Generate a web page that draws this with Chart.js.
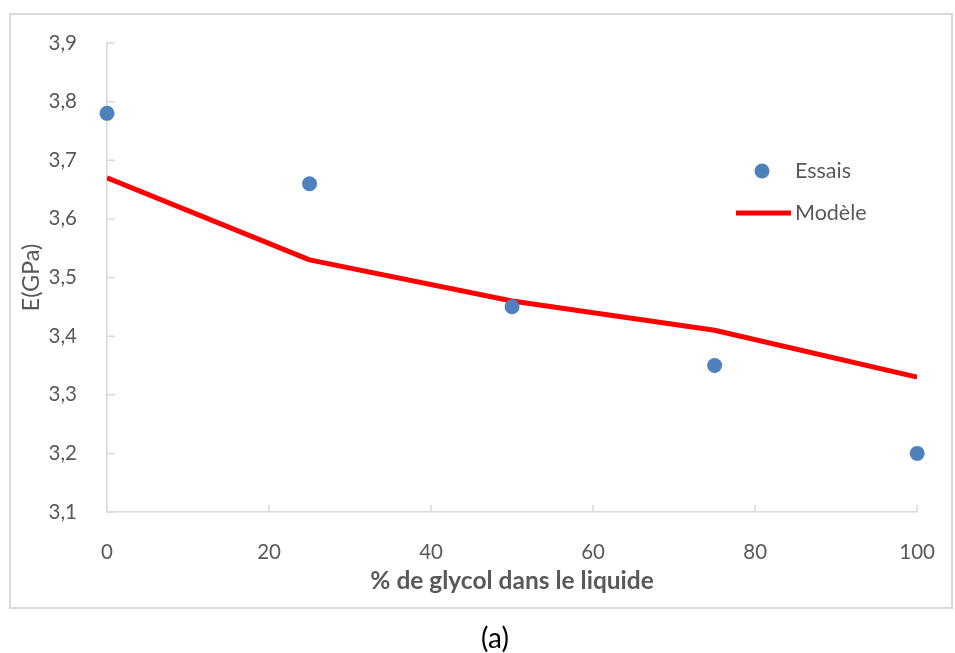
<!DOCTYPE html>
<html>
<head>
<meta charset="utf-8">
<script src="https://cdn.jsdelivr.net/npm/chart.js@4"></script>
<style>
  body { margin: 0; background: #fff; }
  #frame { position: absolute; left: 9px; top: 13px; width: 944px; height: 596px; box-sizing: border-box; border: 2px solid #d9d9d9; }
  #chart { position: absolute; left: 0; top: 0; }
  #caption { position: absolute; left: 0; width: 990px; top: 620px; text-align: center; font: 28px Lato, sans-serif; color: #000; }
</style>
</head>
<body>
<div id="frame"></div>
<canvas id="chart" width="955" height="653"></canvas>
<div id="caption">(a)</div>
<script>
const glycol = [0, 25, 50, 75, 100]
const essais = [3.78, 3.66, 3.45, 3.35, 3.20]
const modele = [3.67, 3.53, 3.46, 3.41, 3.33]
const xTicks = [0, 20, 40, 60, 80, 100]
const yTicks = [3.1, 3.2, 3.3, 3.4, 3.5, 3.6, 3.7, 3.8, 3.9]

const grey = '#595959'
const axisGrey = '#d9d9d9'
const blue = '#4f81bd'
const red = '#ff0000'
const font = 'Lato, sans-serif'

const toPoints = ys => glycol.map((x, i) => ({ x, y: ys[i] }))

// small tick marks pointing into the plot, Excel style
const innerTicks = {
  id: 'innerTicks',
  beforeDatasetsDraw(chart) {
    const { ctx, scales: { x, y } } = chart
    ctx.save()
    ctx.strokeStyle = axisGrey
    ctx.lineWidth = 1.5
    ctx.beginPath()
    xTicks.forEach(v => {
      const px = x.getPixelForValue(v)
      ctx.moveTo(px, y.bottom)
      ctx.lineTo(px, y.bottom - 7)
    })
    yTicks.forEach(v => {
      const py = y.getPixelForValue(v)
      ctx.moveTo(x.left, py)
      ctx.lineTo(x.left + 8, py)
    })
    ctx.stroke()
    ctx.restore()
  }
}

const sideLegend = {
  id: 'sideLegend',
  afterDraw(chart) {
    const { ctx } = chart
    ctx.save()
    ctx.fillStyle = blue
    ctx.beginPath()
    ctx.arc(762, 171, 7.5, 0, Math.PI * 2)
    ctx.fill()
    ctx.strokeStyle = red
    ctx.lineWidth = 5
    ctx.beginPath()
    ctx.moveTo(736, 213)
    ctx.lineTo(791, 213)
    ctx.stroke()
    ctx.fillStyle = grey
    ctx.font = '21.5px ' + font
    ctx.textBaseline = 'middle'
    ctx.fillText('Essais', 795, 171)
    ctx.fillText('Modèle', 795, 213)
    ctx.restore()
  }
}

new Chart(document.getElementById('chart'), {
  type: 'scatter',
  data: {
    datasets: [
      {
        label: 'Essais',
        data: toPoints(essais),
        backgroundColor: blue,
        borderColor: blue,
        pointRadius: 7.5,
        pointBorderWidth: 0,
        clip: false
      },
      {
        type: 'line',
        label: 'Modèle',
        data: toPoints(modele),
        borderColor: red,
        borderWidth: 5,
        borderJoinStyle: 'round',
        pointRadius: 0,
        fill: false,
        tension: 0
      }
    ]
  },
  options: {
    responsive: false,
    animation: false,
    devicePixelRatio: 1,
    layout: { padding: { left: 0, top: 43, right: 36, bottom: 0 } },
    plugins: { legend: { display: false }, tooltip: { enabled: false } },
    scales: {
      x: {
        type: 'linear',
        min: 0,
        max: 100,
        afterFit: s => { s.height = 141 },
        afterBuildTicks: s => { s.ticks = xTicks.map(value => ({ value })) },
        grid: { display: false },
        border: { display: true, color: axisGrey, width: 1.5 },
        ticks: { color: grey, font: { family: font, size: 20.5 }, padding: 20, maxRotation: 0 },
        title: {
          display: true,
          text: '% de glycol dans le liquide',
          color: grey,
          font: { family: font, size: 24.5, weight: 'bold' },
          padding: { top: 57, bottom: 57 }
        }
      },
      y: {
        type: 'linear',
        min: 3.1,
        max: 3.9,
        afterFit: s => { s.width = 107 },
        afterBuildTicks: s => { s.ticks = yTicks.map(value => ({ value })) },
        grid: { display: false },
        border: { display: true, color: axisGrey, width: 1.5 },
        ticks: {
          color: grey,
          font: { family: font, size: 20.5 },
          padding: 22,
          callback: v => v.toFixed(1).replace('.', ',')
        },
        title: {
          display: true,
          text: 'E(GPa)',
          color: grey,
          font: { family: font, size: 23.5 },
          padding: { top: 17, bottom: 17 }
        }
      }
    }
  },
  plugins: [innerTicks, sideLegend]
})
</script>
</body>
</html>
